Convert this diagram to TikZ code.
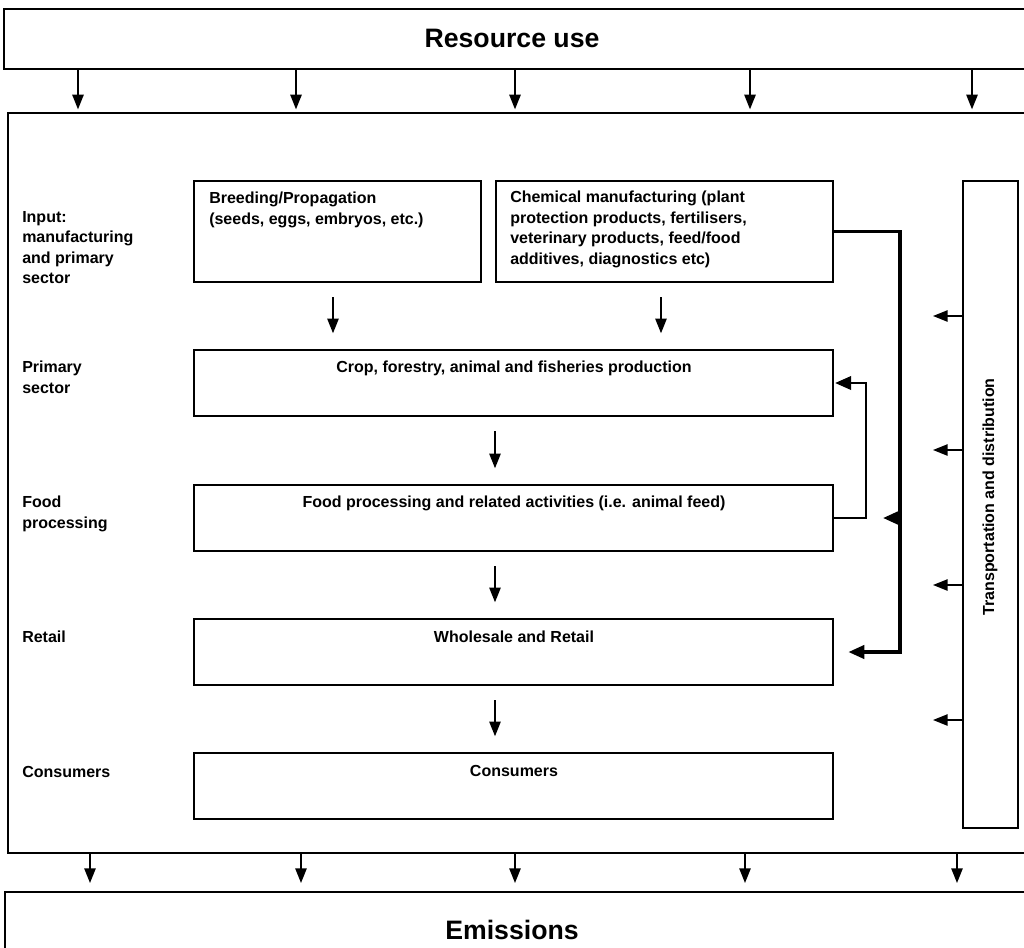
\documentclass[tikz,border=0pt]{standalone}
\usepackage{fontspec}
\setmainfont{Liberation Sans}
\usetikzlibrary{arrows.meta,fit,calc}
\begin{document}
\begin{tikzpicture}[x=0.75pt,y=-0.75pt,
  txt/.style={font=\fontsize{12}{15.3}\selectfont\bfseries, inner sep=0pt},
  big/.style={font=\fontsize{20}{24}\selectfont\bfseries, inner sep=0pt},
  box/.style={draw, line width=1.1pt, inner sep=0pt},
  frame/.style={draw, line width=1.5pt, inner sep=0pt},
  arr/.style={line width=1.2pt, -{Triangle[length=11pt,width=8.5pt]}},
  link/.style={line width=2.5pt, -{Triangle[length=12pt,width=10pt]}},
  linktwo/.style={line width=1.9pt, -{Triangle[length=12pt,width=10pt]}},
]
\useasboundingbox (0,0) rectangle (1024,947);
\clip (0,0) rectangle (1024,947);

% frames
\node[frame, fit={(4,9) (1040,69)}] (res) {};
\node[big] (restxt) at (512,38) {Resource use};
\node[frame, fit={(8,113) (1040,853)}] (mid) {};
\node[frame, fit={(5,892) (1040,970)}] (emi) {};
\node[big] (emitxt) at (512,930) {Emissions};

% left labels
\node[txt, align=left, anchor=north west] (lin) at (22,211) {Input:\\manufacturing\\and primary\\sector};
\node[txt, align=left, anchor=north west] (lprim) at (22,361) {Primary\\sector};
\node[txt, align=left, anchor=north west] (lfood) at (22,496) {Food\\processing};
\node[txt, align=left, anchor=north west] (lret) at (22,631) {Retail};
\node[txt, align=left, anchor=north west] (lcons) at (22,766) {Consumers};

% boxes
\node[box, fit={(194,181) (481,282)}] (breed) {};
\node[txt, align=left, anchor=north west] (breedtxt) at (209,192) {Breeding/Propagation\\(seeds, eggs, embryos, etc.)};
\node[box, fit={(496,181) (833,282)}] (chem) {};
\node[txt, align=left, anchor=north west] (chemtxt) at (510,191) {Chemical manufacturing (plant\\protection products, fertilisers,\\veterinary products, feed/food\\additives, diagnostics etc)};
\node[box, fit={(194,350) (833,416)}] (crop) {};
\node[txt, anchor=north] (croptxt) at (514,361) {Crop, forestry, animal and fisheries production};
\node[box, fit={(194,485) (833,551)}] (food) {};
\node[txt, anchor=north] (foodtxt) at (514,496) {Food processing and related activities (i.e. animal feed)};
\node[box, fit={(194,619) (833,685)}] (whole) {};
\node[txt, anchor=north] (wholetxt) at (514,631) {Wholesale and Retail};
\node[box, fit={(194,753) (833,819)}] (cons) {};
\node[txt, anchor=north] (constxt) at (514,765) {Consumers};
\node[box, fit={(963,181) (1018,828)}] (trans) {};
\node[txt, rotate=90] (transtxt) at (990,497) {Transportation and distribution};

% helper coordinates
\coordinate (ta1) at (78,0);
\coordinate (ta2) at (296,0);
\coordinate (ta3) at (515,0);
\coordinate (ta4) at (750,0);
\coordinate (ta5) at (972,0);
\coordinate (ba1) at (90,0);
\coordinate (ba2) at (301,0);
\coordinate (ba3) at (515,0);
\coordinate (ba4) at (745,0);
\coordinate (ba5) at (957,0);
\coordinate (bc) at (333,0);
\coordinate (cc) at (661,0);
\coordinate (cx) at (495,0);
\coordinate (bx) at (900,0);
\coordinate (fx) at (866,0);
\coordinate (tp1) at (933,316);
\coordinate (tp2) at (933,450);
\coordinate (tp3) at (933,585);
\coordinate (tp4) at (933,720);

% resource arrows
\foreach \i in {1,...,5}{
  \draw[arr, shorten >=2pt] (ta\i |- res.south) -- (ta\i |- mid.north);
  \draw[arr, shorten >=6pt] (ba\i |- mid.south) -- (ba\i |- emi.north);
}

% chain arrows
\draw[arr, shorten <=11pt, shorten >=12pt] (bc |- breed.south) -- (bc |- crop.north);
\draw[arr, shorten <=11pt, shorten >=12pt] (cc |- chem.south) -- (cc |- crop.north);
\draw[arr, shorten <=11pt, shorten >=12pt] (cx |- crop.south) -- (cx |- food.north);
\draw[arr, shorten <=11pt, shorten >=12pt] (cx |- food.south) -- (cx |- whole.north);
\draw[arr, shorten <=11pt, shorten >=12pt] (cx |- whole.south) -- (cx |- cons.north);

% thick links
\draw[link, shorten >=11pt] (chem.east) -- (bx |- chem.east) -- (bx |- whole.east) -- (whole.east);
\draw[link] (bx |- food.east) -- ++(-17,0);
\draw[linktwo, shorten >=1pt] (food.east) -- (fx |- food.east) -- (fx |- crop.east) -- (crop.east);

% transport arrows
\foreach \i in {1,...,4}{
  \draw[arr] (trans.west |- tp\i) -- (tp\i);
}
\end{tikzpicture}
\end{document}
